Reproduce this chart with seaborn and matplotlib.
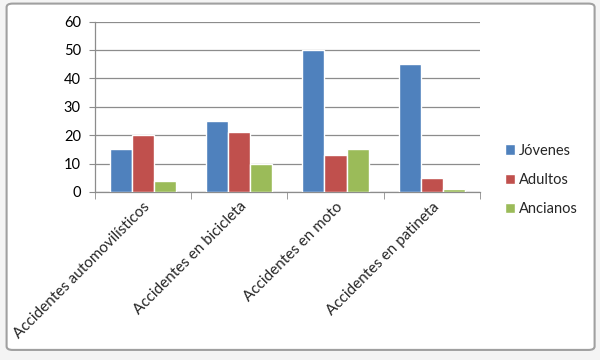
import matplotlib
matplotlib.use("Agg")
import matplotlib.pyplot as plt
import seaborn as sns
import pandas as pd
from matplotlib.patches import FancyBboxPatch

categorias = ["Accidentes automovilísticos", "Accidentes en bicicleta",
              "Accidentes en moto", "Accidentes en patineta"]
series = ["Jóvenes", "Adultos", "Ancianos"]
jovenes = [15, 25, 50, 45]
adultos = [20, 21, 13, 5]
ancianos = [4, 10, 15, 1]
colores = ["#4F81BD", "#C0504D", "#9BBB59"]

rows = []
for s, vals in zip(series, [jovenes, adultos, ancianos]):
    for c, v in zip(categorias, vals):
        rows.append({"categoria": c, "serie": s, "valor": v})
df = pd.DataFrame(rows)

sns.set_style("white")
plt.rcParams["font.family"] = ["Lato", "DejaVu Sans"]

fig = plt.figure(figsize=(6, 3.6), dpi=100)
fig.patch.set_facecolor("#F4F4F4")
# chart frame, behind everything
frame = FancyBboxPatch((0.011, 0.028), 0.98, 0.962, boxstyle="round,pad=0,rounding_size=0.01",
                       transform=fig.transFigure, facecolor="white", edgecolor="#A0A0A0",
                       linewidth=1.5, zorder=-10)
fig.add_artist(frame)

ax = fig.add_axes([0.158, 0.467, 0.642, 0.473])
ax.set_zorder(5)
sns.barplot(data=df, x="categoria", y="valor", hue="serie", palette=colores,
            width=0.69, gap=0, saturation=1, ax=ax, zorder=3)

ax.set_ylim(0, 60)
ax.set_yticks(range(0, 61, 10))
ax.set_xlim(-0.5, 3.5)
ax.set_xlabel("")
ax.set_ylabel("")
ax.set_facecolor("white")
ax.grid(axis="y", color="#8C8C8C", linewidth=0.9, zorder=0)
ax.set_axisbelow(True)
for side in ["top", "right"]:
    ax.spines[side].set_visible(False)
for side in ["left", "bottom"]:
    ax.spines[side].set_color("#8C8C8C")
    ax.spines[side].set_linewidth(0.9)

ax.tick_params(axis="y", which="both", left=True, length=4, color="#8C8C8C",
               labelsize=10.5, pad=6, labelcolor="black")
ax.set_xticks([-0.5, 0.5, 1.5, 2.5, 3.5], minor=True)
ax.tick_params(axis="x", which="minor", bottom=True, length=5, color="#8C8C8C")
ax.tick_params(axis="x", which="major", bottom=False, labelsize=11, pad=2)
for lbl in ax.get_xticklabels():
    lbl.set_rotation(45)
    lbl.set_ha("right")
    lbl.set_va("top")
    lbl.set_rotation_mode("anchor")

leg = ax.legend(loc="center left", bbox_to_anchor=(1.03, 0.07), frameon=False,
                fontsize=10.5, handlelength=0.7, handleheight=0.7, handletextpad=0.25,
                labelspacing=1.05)

fig.savefig("out.png", dpi=100, facecolor=fig.get_facecolor())
